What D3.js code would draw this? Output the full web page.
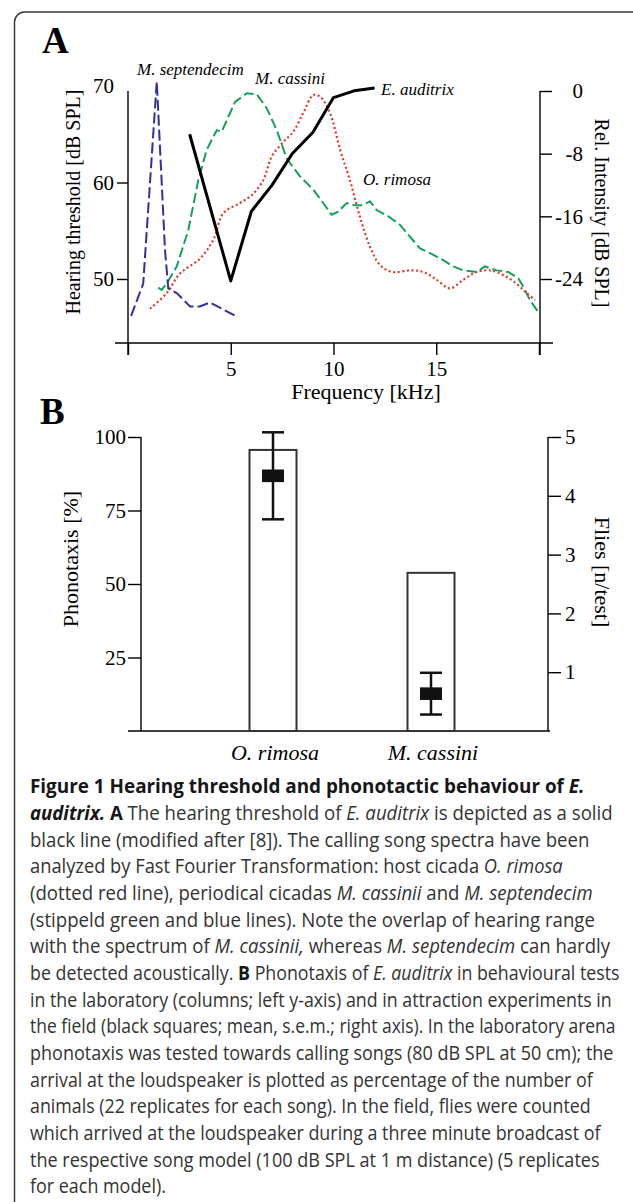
<!DOCTYPE html>
<html>
<head>
<meta charset="utf-8">
<script src="https://cdn.jsdelivr.net/npm/d3@7"></script>
<style>body{margin:0;background:#fff}</style>
</head>
<body>
<div id="fig"></div>
<script>
// ---- panel A data: frequency [kHz] and level ----
var freqTicks = [0, 5, 10, 15, 20];
var threshTicks = [50, 60, 70];
var relTicks = [0, -8, -16, -24];

// E. auditrix hearing threshold (left axis, dB SPL)
var auditrixFreq = [3, 5, 6, 7, 8, 9, 10, 11, 12];
var auditrixDb = [65, 49.8, 57, 59.7, 63, 65.2, 68.8, 69.5, 69.8];

// M. septendecim spectrum (right axis, rel. dB)
var septFreq = [0.15, 0.74, 1.40, 1.80, 1.96, 2.37, 3.02, 3.50, 3.99, 5.29];
var septDb = [-28.7, -24.6, 1.2, -20.3, -25.2, -25.8, -27.5, -27.5, -27.0, -28.8];

// M. cassini spectrum
var cassFreq = [1.47, 1.64, 1.88, 2.37, 2.93, 3.42, 3.83, 4.32, 4.56, 4.88, 5.21, 5.78, 6.26, 6.75, 7.24, 7.72, 8.37, 9.02, 9.50, 9.91,
    10.23, 10.64, 11.05, 11.37, 11.78, 12.10, 12.67, 13.24, 13.72, 14.21, 14.70, 15.34, 15.83, 16.32, 16.97, 17.37, 17.94, 18.51, 18.99, 19.32, 19.56, 20.01];
var cassDb = [-25.1, -25.4, -24.6, -22.4, -17.8, -11.4, -7.5, -5.0, -5.2, -3.3, -1.4, -0.3, -0.4, -2.2, -5.0, -8.6, -10.9, -12.6, -14.3, -15.8,
    -15.4, -14.3, -14.6, -14.6, -14.1, -15.2, -16.0, -17.1, -18.6, -20.1, -20.7, -21.6, -22.4, -22.9, -23.1, -22.4, -22.9, -23.1, -23.9, -25.4, -26.7, -28.4];

// O. rimosa spectrum
var rimFreq = [1.07, 1.88, 2.53, 3.50, 4.15, 4.64, 5.45, 6.02, 6.58, 6.99, 7.56, 8.04, 8.53, 9.02, 9.34, 9.83, 10.32, 10.80, 11.29, 11.78,
    12.26, 12.83, 13.72, 14.37, 15.02, 15.67, 16.32, 16.97, 17.62, 18.26, 18.91, 19.40, 19.81];
var rimDb = [-27.8, -25.8, -23.3, -21.4, -19.0, -15.6, -14.3, -13.3, -11.4, -8.4, -6.5, -5.2, -2.8, -0.5, -0.7, -2.8, -7.5, -11.4, -16.1, -19.9,
    -22.2, -23.1, -22.9, -23.1, -24.1, -25.2, -24.1, -23.1, -22.9, -23.5, -24.6, -25.8, -26.7];

// ---- panel B data ----
var cats = ["O. rimosa", "M. cassini"];
var phonotaxis = [95.6, 53.8];     // % (left axis)
var fliesMean = [4.34, 0.635];     // n/test (right axis)
var fliesSem = [0.74, 0.355];
var phonoTicks = [25, 50, 75, 100];
var fliesTicks = [1, 2, 3, 4, 5];

// ---- caption ----
var caption = [
    [["Figure 1 Hearing threshold and phonotactic behaviour of ", "b"], ["E.", "bi"]],
    [["auditrix.", "bi"], [" A", "b"], [" The hearing threshold of ", ""], ["E. auditrix", "i"], [" is depicted as a solid", ""]],
    [["black line (modified after [8]). The calling song spectra have been", ""]],
    [["analyzed by Fast Fourier Transformation: host cicada ", ""], ["O. rimosa", "i"]],
    [["(dotted red line), periodical cicadas ", ""], ["M. cassinii", "i"], [" and ", ""], ["M. septendecim", "i"]],
    [["(stippeld green and blue lines). Note the overlap of hearing range", ""]],
    [["with the spectrum of ", ""], ["M. cassinii,", "i"], [" whereas ", ""], ["M. septendecim", "i"], [" can hardly", ""]],
    [["be detected acoustically. ", ""], ["B", "b"], [" Phonotaxis of ", ""], ["E. auditrix", "i"], [" in behavioural tests", ""]],
    [["in the laboratory (columns; left y-axis) and in attraction experiments in", ""]],
    [["the field (black squares; mean, s.e.m.; right axis). In the laboratory arena", ""]],
    [["phonotaxis was tested towards calling songs (80 dB SPL at 50 cm); the", ""]],
    [["arrival at the loudspeaker is plotted as percentage of the number of", ""]],
    [["animals (22 replicates for each song). In the field, flies were counted", ""]],
    [["which arrived at the loudspeaker during a three minute broadcast of", ""]],
    [["the respective song model (100 dB SPL at 1 m distance) (5 replicates", ""]],
    [["for each model).", ""]]
];
var capWidths = [555, 583, 560, 533, 563, 565, 580, 590, 582, 586, 584, 563, 561, 571, 570, 136];

var w = 633, h = 1202;
var serif = "'Liberation Serif', 'Times New Roman', serif";

var svg = d3.select("#fig").append("svg").attr("width", w).attr("height", h).style("display", "block");
svg.append("rect").attr("width", w).attr("height", h).attr("fill", "white");

// rounded frame, running off the right and bottom edges
svg.append("path").attr("d", "M14.5,1202 V22 A10,10 0 0 1 24.5,12 H633")
    .attr("fill", "none").attr("stroke", "#3a3a3a").attr("stroke-width", 1.5);

function styleAxis(g, size) {
    g.attr("font-family", serif).attr("font-size", size);
    g.select(".domain").remove();
    g.selectAll("line").attr("stroke", "#000").attr("stroke-width", 1.4);
    g.selectAll("text").attr("fill", "#000").attr("font-size", size).attr("font-family", serif);
}

// ================= panel A =================
var x = d3.scaleLinear().domain([0, 20]).range([128, 539]);
var yL = d3.scaleLinear().domain([50, 60]).range([279, 182.5]);
var yR = d3.scaleLinear().domain([-24, 0]).range([279, 91]);

svg.append("text").attr("x", 42).attr("y", 53).attr("font-family", serif)
    .attr("font-weight", "bold").attr("font-size", 37).text("A");

var gx = svg.append("g").attr("transform", "translate(0,343)")
    .call(d3.axisBottom(x).tickValues(freqTicks).tickSize(12).tickSizeOuter(0)
        .tickFormat(function (d) { return (d > 0 && d < 20) ? d : ""; }));
styleAxis(gx, 21);
gx.selectAll("text").attr("y", 18);

var gl = svg.append("g").attr("transform", "translate(128,0)")
    .call(d3.axisLeft(yL).tickValues(threshTicks).tickSize(11).tickSizeOuter(0).tickFormat(d3.format("d")));
styleAxis(gl, 21);
gl.selectAll(".tick").filter(function (d) { return d === 70; }).select("line").remove();
gl.selectAll("text").attr("x", -14);

var gr = svg.append("g").attr("transform", "translate(540,0)")
    .call(d3.axisRight(yR).tickValues(relTicks).tickSize(12).tickSizeOuter(0)
        .tickFormat(function (d) { return String(d); }));
styleAxis(gr, 21);
gr.selectAll("text").attr("x", 43).attr("text-anchor", "end");

// axis lines
var axA = svg.append("g").attr("stroke", "#000").attr("stroke-width", 1.4);
axA.append("line").attr("x1", 115).attr("x2", 553).attr("y1", 343).attr("y2", 343);
axA.append("line").attr("x1", 128).attr("x2", 128).attr("y1", 91).attr("y2", 355);
axA.append("line").attr("x1", 540).attr("x2", 540).attr("y1", 91).attr("y2", 355);

svg.append("text").attr("transform", "translate(80,202) rotate(-90)").attr("text-anchor", "middle")
    .attr("font-family", serif).attr("font-size", 20).text("Hearing threshold [dB SPL]");
svg.append("text").attr("transform", "translate(595,213) rotate(90)").attr("text-anchor", "middle")
    .attr("font-family", serif).attr("font-size", 20).text("Rel. Intensity [dB SPL]");
svg.append("text").attr("x", 366).attr("y", 399).attr("text-anchor", "middle")
    .attr("font-family", serif).attr("font-size", 22).text("Frequency [kHz]");

var lineL = d3.line().x(function (d) { return x(d[0]); }).y(function (d) { return yL(d[1]); });
var lineR = d3.line().x(function (d) { return x(d[0]); }).y(function (d) { return yR(d[1]); });

svg.append("path").datum(d3.zip(cassFreq, cassDb)).attr("d", lineR)
    .attr("fill", "none").attr("stroke", "#16a05a").attr("stroke-width", 2).attr("stroke-dasharray", "10,4");
svg.append("path").datum(d3.zip(rimFreq, rimDb)).attr("d", lineR.curve(d3.curveCatmullRom))
    .attr("fill", "none").attr("stroke", "#e8352a").attr("stroke-width", 2.2).attr("stroke-dasharray", "2,2.6");
lineR.curve(d3.curveLinear);
svg.append("path").datum(d3.zip(septFreq, septDb)).attr("d", lineR)
    .attr("fill", "none").attr("stroke", "#34309a").attr("stroke-width", 2).attr("stroke-dasharray", "11,4");
svg.append("path").datum(d3.zip(auditrixFreq, auditrixDb)).attr("d", lineL)
    .attr("fill", "none").attr("stroke", "#000").attr("stroke-width", 3).attr("stroke-linejoin", "round");

var lab = svg.append("g").attr("font-family", serif).attr("font-style", "italic").attr("font-size", 17);
lab.append("text").attr("x", 137).attr("y", 75).text("M. septendecim");
lab.append("text").attr("x", 255).attr("y", 84).text("M. cassini");
lab.append("text").attr("x", 381).attr("y", 95).text("E. auditrix");
lab.append("text").attr("x", 363).attr("y", 185).text("O. rimosa");

// ================= panel B =================
var yP = d3.scaleLinear().domain([0, 100]).range([731, 437]);
var yF = d3.scaleLinear().domain([0, 5]).range([731, 437]);
var xB = d3.scalePoint().domain(cats).range([273, 431]);
var barW = 47;

svg.append("text").attr("x", 40).attr("y", 424).attr("font-family", serif)
    .attr("font-weight", "bold").attr("font-size", 37).text("B");

var gbl = svg.append("g").attr("transform", "translate(141,0)")
    .call(d3.axisLeft(yP).tickValues(phonoTicks).tickSize(13).tickSizeOuter(0).tickFormat(d3.format("d")));
styleAxis(gbl, 21);
gbl.selectAll("text").attr("x", -15);

var gbr = svg.append("g").attr("transform", "translate(548,0)")
    .call(d3.axisRight(yF).tickValues(fliesTicks).tickSize(13).tickSizeOuter(0).tickFormat(d3.format("d")));
styleAxis(gbr, 21);
gbr.selectAll("text").attr("x", 17);

var axB = svg.append("g").attr("stroke", "#000").attr("stroke-width", 1.4);
axB.append("line").attr("x1", 128).attr("x2", 550).attr("y1", 731).attr("y2", 731);
axB.append("line").attr("x1", 141).attr("x2", 141).attr("y1", 437).attr("y2", 731);
axB.append("line").attr("x1", 548).attr("x2", 548).attr("y1", 437).attr("y2", 731);

svg.append("text").attr("transform", "translate(78,559) rotate(-90)").attr("text-anchor", "middle")
    .attr("font-family", serif).attr("font-size", 22).text("Phonotaxis [%]");
svg.append("text").attr("transform", "translate(595,572) rotate(90)").attr("text-anchor", "middle")
    .attr("font-family", serif).attr("font-size", 22).text("Flies [n/test]");

svg.append("g").selectAll("rect").data(cats).join("rect")
    .attr("x", function (d) { return xB(d) - barW / 2; })
    .attr("y", function (d, i) { return yP(phonotaxis[i]); })
    .attr("width", barW)
    .attr("height", function (d, i) { return yP(0) - yP(phonotaxis[i]); })
    .attr("fill", "white").attr("stroke", "#333").attr("stroke-width", 2);

var eb = svg.append("g").selectAll("g").data(cats).join("g");
eb.append("line")
    .attr("x1", function (d) { return xB(d); }).attr("x2", function (d) { return xB(d); })
    .attr("y1", function (d, i) { return yF(fliesMean[i] + fliesSem[i]); })
    .attr("y2", function (d, i) { return yF(fliesMean[i] - fliesSem[i]); })
    .attr("stroke", "#111").attr("stroke-width", 2.5);
[1, -1].forEach(function (s) {
    eb.append("line")
        .attr("x1", function (d) { return xB(d) - 11; }).attr("x2", function (d) { return xB(d) + 11; })
        .attr("y1", function (d, i) { return yF(fliesMean[i] + s * fliesSem[i]); })
        .attr("y2", function (d, i) { return yF(fliesMean[i] + s * fliesSem[i]); })
        .attr("stroke", "#111").attr("stroke-width", 2.5);
});
eb.append("rect")
    .attr("x", function (d) { return xB(d) - 11; })
    .attr("y", function (d, i) { return yF(fliesMean[i]) - 6.3; })
    .attr("width", 22).attr("height", 12.6).attr("fill", "#111");

svg.append("g").selectAll("text").data(cats).join("text")
    .attr("x", function (d) { return xB(d) + 2; }).attr("y", 760)
    .attr("text-anchor", "middle").attr("font-family", serif).attr("font-style", "italic")
    .attr("font-size", 22).text(function (d) { return d; });

// ================= caption =================
// each line is squeezed horizontally to the width it has in the figure
var cap = svg.append("g").attr("font-family", "'Open Sans', 'Noto Sans', sans-serif")
    .attr("font-size", 20).style("white-space", "pre");
caption.forEach(function (line, i) {
    var t = cap.append("text").attr("x", 0).attr("y", 0);
    line.forEach(function (seg) {
        var bold = seg[1].indexOf("b") >= 0;
        t.append("tspan").text(seg[0])
            .attr("fill", bold ? "#161616" : "#333")
            .attr("font-weight", bold ? "bold" : "normal")
            .attr("font-style", seg[1].indexOf("i") >= 0 ? "italic" : "normal");
    });
    var k = capWidths[i] / t.node().getComputedTextLength();
    t.attr("transform", "translate(30," + (793.3 + i * 26.67) + ") scale(" + k + ",1)");
});
</script>
</body>
</html>
